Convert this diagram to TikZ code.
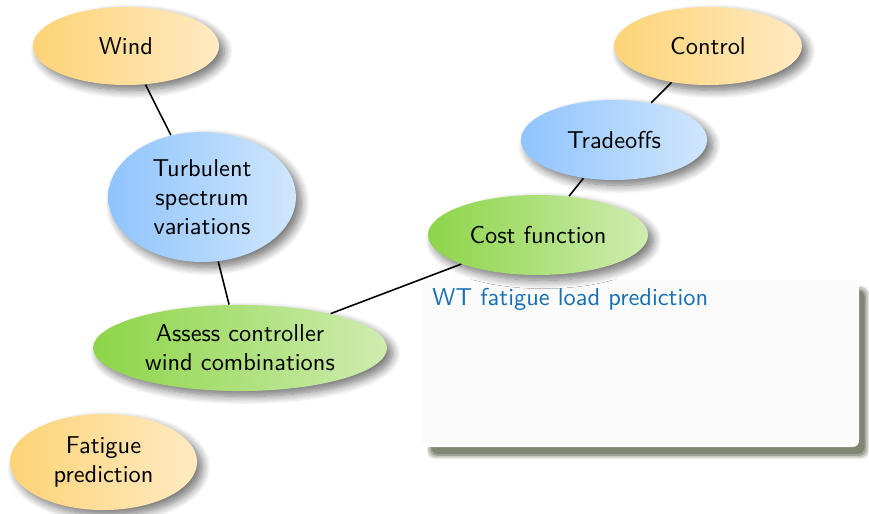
\documentclass[tikz,border=0pt]{standalone}
\usetikzlibrary{shapes.geometric,shadows.blur}
\definecolor{orL}{HTML}{FDD376}
\definecolor{orR}{HTML}{FFEAC2}
\definecolor{blL}{HTML}{8FC4FE}
\definecolor{blR}{HTML}{D0E6FC}
\definecolor{grL}{HTML}{8CD548}
\definecolor{grR}{HTML}{CFECB0}
\definecolor{titleblue}{RGB}{22,112,182}
\definecolor{boxfill}{HTML}{FBFBFB}
\definecolor{boxshadow}{RGB}{105,110,88}
\tikzset{
  bub/.style={ellipse, inner sep=0pt, align=center,
    blur shadow={shadow xshift=2.2pt, shadow yshift=-2.2pt, shadow blur steps=10, shadow blur radius=3.4pt, shadow opacity=55}},
  orbub/.style={bub, left color=orL, right color=orR},
  blbub/.style={bub, left color=blL, right color=blR},
  grbub/.style={bub, left color=grL, right color=grR},
  link/.style={line width=0.65pt, black},
  wtbox/.style={rectangle, rounded corners=2.6pt, fill=boxfill, inner sep=0pt},
  shadowlayer/.style={fill=boxshadow, rounded corners=3pt}
}
\begin{document}
\begin{tikzpicture}[x=0.41pt, y=-0.41pt, font=\sffamily]
\useasboundingbox (0,0) rectangle (869,514);

% box shadow
\fill[shadowlayer, opacity=0.15] (427,286) rectangle (869,459);
\fill[shadowlayer, opacity=0.28] (428,287) rectangle (868,457.5);
\fill[shadowlayer, opacity=0.42] (430,289) rectangle (866,456);
\fill[shadowlayer, opacity=0.55] (431,290) rectangle (864.5,454);
\node[wtbox, minimum width=179.6pt, minimum height=68.5pt] (wt) at (640,363.5) {};
\node[anchor=base west, text=titleblue, inner sep=0pt] (wttitle) at (432,306) {WT fatigue load prediction};

\node[orbub, minimum width=76.3pt, minimum height=32pt] (wind) at (126,46) {Wind};
\node[blbub, minimum width=77pt, minimum height=53.3pt] (turb) at (202,197) {Turbulent\\spectrum\\variations};
\node[orbub, minimum width=77pt, minimum height=32pt] (control) at (708,46) {Control};
\node[blbub, minimum width=76.3pt, minimum height=32.8pt] (trade) at (614,140) {Tradeoffs};
\node[grbub, minimum width=90.2pt, minimum height=32.8pt] (cost) at (538,235) {Cost function};
\node[grbub, minimum width=120.5pt, minimum height=35.3pt] (assess) at (240,348) {Assess controller\\wind combinations};
\node[orbub, minimum width=76.7pt, minimum height=39.4pt] (fatigue) at (103.5,462) {Fatigue\\prediction};

\draw[link] (wind) -- (turb);
\draw[link] (turb) -- (assess);
\draw[link] (assess) -- (cost);
\draw[link] (cost) -- (trade);
\draw[link] (trade) -- (control);
\end{tikzpicture}
\end{document}
